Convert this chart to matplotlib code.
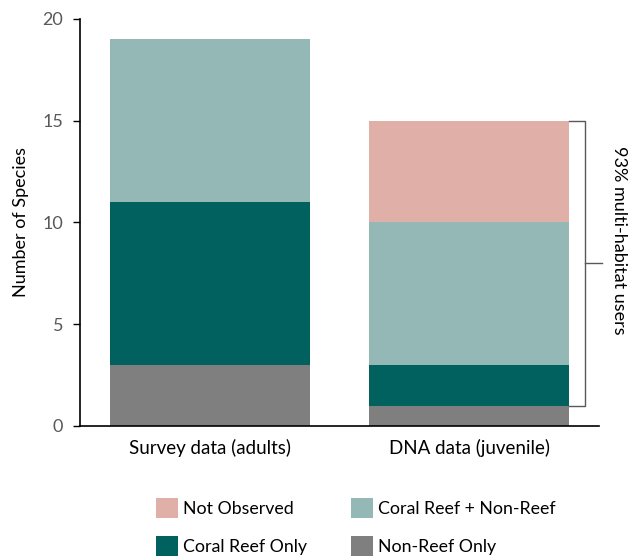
import matplotlib
matplotlib.use("Agg")
import matplotlib.pyplot as plt
import numpy as np

plt.rcParams["font.family"] = ["Lato", "DejaVu Sans"]

# data
groups = ["Survey data (adults)", "DNA data (juvenile)"]
non_reef_only = [3, 1]
coral_reef_only = [8, 2]
coral_and_non_reef = [8, 7]
not_observed = [0, 5]

series = [
    ("Non-Reef Only", non_reef_only, "#7f7f7f"),
    ("Coral Reef Only", coral_reef_only, "#00615e"),
    ("Coral Reef + Non-Reef", coral_and_non_reef, "#93b8b6"),
    ("Not Observed", not_observed, "#e0afa8"),
]

bracket_label = "93% multi-habitat users"

fig = plt.figure(figsize=(6.29, 5.6), dpi=100)
ax = fig.add_axes([0.1272, 0.2393, 0.8251, 0.7268])

x = np.arange(len(groups))
width = 0.77
bottom = np.zeros(len(groups))
handles = {}
for name, vals, color in series:
    vals = np.array(vals, dtype=float)
    bars = ax.bar(x, vals, width, bottom=bottom, color=color, label=name)
    handles[name] = bars
    bottom += vals

ax.set_xlim(-0.5, 1.5)
ax.set_ylim(0, 20)
ax.set_yticks([0, 5, 10, 15, 20])
ax.set_xticks(x)
ax.set_xticklabels(groups, fontsize=13.5, color="#000000")
ax.tick_params(axis="x", length=0, pad=9)
ax.tick_params(axis="y", labelsize=13, labelcolor="#595959", length=5, width=1, pad=7)
ax.set_ylabel("Number of Species", fontsize=13, labelpad=10)
for side in ["top", "right"]:
    ax.spines[side].set_visible(False)
for side in ["left", "bottom"]:
    ax.spines[side].set_linewidth(1.2)
    ax.spines[side].set_color("#000000")

# bracket over the DNA bar (from Non-Reef top to total)
top = bottom[1]
low = non_reef_only[1]
edge = x[1] + width / 2
bx = 1.446
ax.plot([edge, bx, bx, edge], [top, top, low, low], color="#595959", lw=1, clip_on=False)
mid = (top + low) / 2
ax.plot([bx, 1.512], [mid, mid], color="#595959", lw=1, clip_on=False)
fig.text(619 / 629, 1 - 240 / 560, bracket_label, rotation=270, ha="center", va="center",
         fontsize=13)

order = ["Not Observed", "Coral Reef Only", "Coral Reef + Non-Reef", "Non-Reef Only"]
fig.legend([handles[n] for n in order], order, loc="center", ncol=2,
           bbox_to_anchor=(356 / 629, 1 - 527 / 560), frameon=False, fontsize=12.8,
           handlelength=1.24, handleheight=1.35, labelspacing=1.05, columnspacing=2.45,
           handletextpad=0.3)

fig.savefig("out.png", dpi=100)
